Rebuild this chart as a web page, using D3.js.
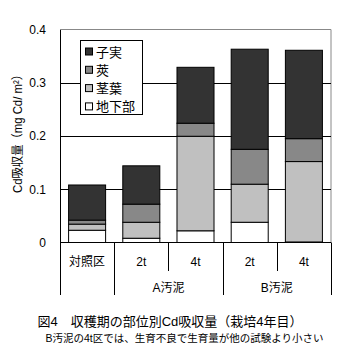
<!DOCTYPE html>
<html><head><meta charset="utf-8">
<script src="https://cdn.jsdelivr.net/npm/d3@7"></script>
<style>
html,body{margin:0;padding:0;background:#fff;}
svg{display:block;}
text{font-family:"Liberation Sans","Noto Sans CJK JP",sans-serif;fill:#000;}
</style></head>
<body>
<svg id="chart" width="345" height="363"></svg>
<script>
const categories = ["対照区","A2t","A4t","B2t","B4t"];
const catLabels = ["対照区","2t","4t","2t","4t"];
const groupLabels = [{name:"A汚泥", from:1, to:2},{name:"B汚泥", from:3, to:4}];
const seriesNames = ["地下部","茎葉","莢","子実"];
const chika = [0.023, 0.008, 0.022, 0.038, 0.001];
const keiyou = [0.0115, 0.030, 0.1775, 0.0715, 0.151];
const saya = [0.0075, 0.034, 0.0245, 0.0655, 0.043];
const shijitsu = [0.066, 0.072, 0.105, 0.188, 0.166];
const yTicks = [0, 0.1, 0.2, 0.3, 0.4];
const colors = ["#ffffff","#c0c0c0","#888888","#333333"];

const svg = d3.select("#chart");
const L=60, R=331, T=29.5, B=242.5;
const x = d3.scaleBand().domain(categories).range([L,R]).paddingInner(0.317).paddingOuter(0.1585);
const y = d3.scaleLinear().domain([0,0.4]).range([B,T]);

const rows = categories.map((c,i)=>({cat:c, "地下部":chika[i], "茎葉":keiyou[i], "莢":saya[i], "子実":shijitsu[i]}));
const stack = d3.stack().keys(seriesNames)(rows);

// plot border (grey top/right)
svg.append("line").attr("x1",L).attr("x2",R).attr("y1",T).attr("y2",T).attr("stroke","#888").attr("stroke-width",1);
svg.append("line").attr("x1",R).attr("x2",R).attr("y1",T).attr("y2",B).attr("stroke","#888").attr("stroke-width",1);

// gridlines
svg.append("g").selectAll("line").data(yTicks.filter(t=>t>0 && t<0.4)).join("line")
  .attr("x1",L).attr("x2",R).attr("y1",d=>Math.round(y(d))+0.5).attr("y2",d=>Math.round(y(d))+0.5)
  .attr("stroke","#000").attr("stroke-width",1);

// bars
svg.append("g").selectAll("g").data(stack).join("g")
  .attr("fill",(d,i)=>colors[i])
  .selectAll("rect").data(d=>d).join("rect")
  .attr("x",d=>x(d.data.cat)).attr("width",x.bandwidth())
  .attr("y",d=>y(d[1])).attr("height",d=>Math.max(0,y(d[0])-y(d[1])))
  .attr("stroke","#000").attr("stroke-width",1);

// y axis
const yAxis = d3.axisLeft(y).tickValues(yTicks).tickSize(0).tickPadding(14).tickFormat(d=>d===0?"0":d3.format(".1f")(d));
const ga = svg.append("g").attr("transform",`translate(${L},0)`).call(yAxis);
ga.select(".domain").attr("stroke","#000");
ga.selectAll("text").attr("font-size",12).attr("fill","#000");

// x axis baseline
svg.append("line").attr("x1",L).attr("x2",R).attr("y1",B).attr("y2",B).attr("stroke","#000");

// category dividers
const step = x.step();
const divs = [];
for(let i=0;i<=categories.length;i++){
  const xx = L + i*step;
  const full = (i===0||i===1||i===3||i===5);
  divs.push({x:xx, full});
}
svg.append("g").selectAll("line").data(divs).join("line")
  .attr("x1",d=>Math.round(d.x)+0.5).attr("x2",d=>Math.round(d.x)+0.5)
  .attr("y1",B).attr("y2",d=>d.full?295:271)
  .attr("stroke","#000");

// category labels
svg.append("g").selectAll("text").data(categories).join("text")
  .attr("x",d=>x(d)+x.bandwidth()/2).attr("y",266)
  .attr("text-anchor","middle").attr("font-size",12)
  .text((d,i)=>catLabels[i]);
svg.append("g").selectAll("text").data(groupLabels).join("text")
  .attr("x",d=>(x(categories[d.from]) + x(categories[d.to])+x.bandwidth())/2).attr("y",292)
  .attr("text-anchor","middle").attr("font-size",12)
  .text(d=>d.name);

// y label
svg.append("text").attr("transform","translate(22,131) rotate(-90)")
  .attr("text-anchor","middle").attr("font-size",12)
  .attr("textLength",124).attr("lengthAdjust","spacingAndGlyphs")
  .text("Cd吸収量（mg Cd/ m²）");

// legend
const lg = svg.append("g");
lg.append("rect").attr("x",80.5).attr("y",40.5).attr("width",62).attr("height",74).attr("fill","#fff").attr("stroke","#000");
const legendItems = seriesNames.slice().reverse();
lg.selectAll("g.it").data(legendItems).join("g").attr("class","it")
  .attr("transform",(d,i)=>`translate(0,${51.5+i*18.3})`)
  .each(function(d){
    const g=d3.select(this);
    g.append("rect").attr("x",85.5).attr("y",-3.5).attr("width",7).attr("height",7)
      .attr("fill",colors[seriesNames.indexOf(d)]).attr("stroke","#000");
    g.append("text").attr("x",96).attr("y",5).attr("font-size",13).text(d);
  });

// captions
svg.append("text").attr("x",170).attr("y",326).attr("text-anchor","middle").attr("font-size",13)
  .text("図4　収穫期の部位別Cd吸収量（栽培4年目）");
svg.append("text").attr("x",184.5).attr("y",342).attr("text-anchor","middle").attr("font-size",10.5)
  .text("B汚泥の4t区では、生育不良で生育量が他の試験より小さい");
</script>
</body></html>
